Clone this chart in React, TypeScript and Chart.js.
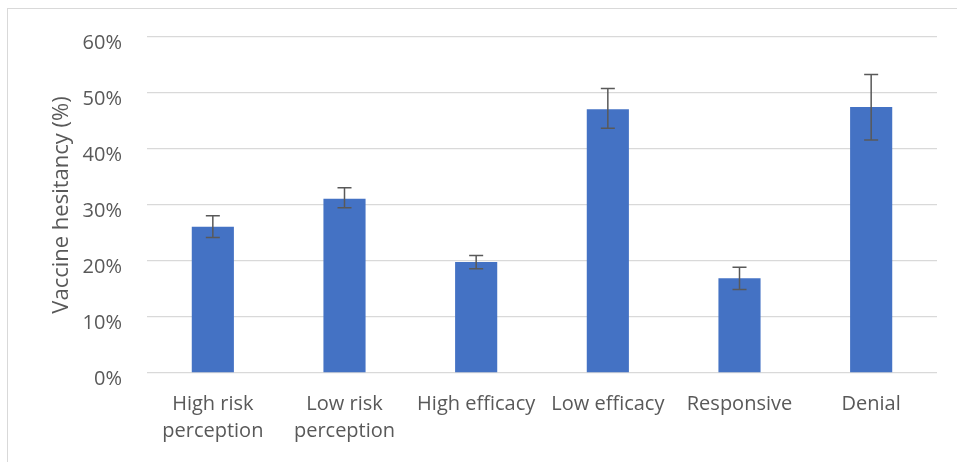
import React, { useEffect, useRef } from "react";
import { Chart, registerables } from "chart.js";

Chart.register(...registerables);

const categories: (string | string[])[] = [
  ["High risk", "perception"],
  ["Low risk", "perception"],
  "High efficacy",
  "Low efficacy",
  "Responsive",
  "Denial",
];
const hesitancy = [26.1, 31.1, 19.8, 47.1, 16.9, 47.5];
const errorLow = [24.2, 29.5, 18.6, 43.7, 14.9, 41.6];
const errorHigh = [28.1, 33.1, 21.0, 50.8, 18.9, 53.3];
const yTicks = [0, 10, 20, 30, 40, 50, 60];

const FONT = "'Open Sans', sans-serif";
const TEXT = "#595959";

const errorBarPlugin = {
  id: "errorBars",
  afterDatasetsDraw(chart: any) {
    const { ctx, scales } = chart;
    const meta = chart.getDatasetMeta(0);
    const y = scales.y;
    ctx.save();
    ctx.strokeStyle = "#595959";
    ctx.lineWidth = 1.5;
    meta.data.forEach((bar: any, i: number) => {
      const x = bar.x;
      const yl = y.getPixelForValue(errorLow[i]);
      const yh = y.getPixelForValue(errorHigh[i]);
      const cap = 7;
      ctx.beginPath();
      ctx.moveTo(x, yl);
      ctx.lineTo(x, yh);
      ctx.moveTo(x - cap, yl);
      ctx.lineTo(x + cap, yl);
      ctx.moveTo(x - cap, yh);
      ctx.lineTo(x + cap, yh);
      ctx.stroke();
    });
    ctx.restore();
  },
};

export default function App() {
  const ref = useRef<HTMLCanvasElement>(null);
  useEffect(() => {
    if (!ref.current) return;
    const chart = new Chart(ref.current, {
      type: "bar",
      data: {
        labels: categories as any,
        datasets: [
          {
            data: hesitancy,
            backgroundColor: "#4472C4",
            borderWidth: 0,
            barPercentage: 0.64,
            categoryPercentage: 0.5,
          },
        ],
      },
      plugins: [errorBarPlugin],
      options: {
        animation: false,
        responsive: false,
        maintainAspectRatio: false,
        layout: { padding: { left: 45, right: 20, top: 35, bottom: 0 } },
        plugins: { legend: { display: false }, tooltip: { enabled: false } },
        scales: {
          x: {
            grid: { display: false, drawTicks: false },
            border: { display: false },
            ticks: {
              color: TEXT,
              font: { family: FONT, size: 20, lineHeight: 1.35 },
              padding: 18,
              maxRotation: 0,
              autoSkip: false,
            },
            afterFit: (s: any) => {
              s.height = 89;
            },
          },
          y: {
            min: 0,
            max: 60,
            afterBuildTicks: (s: any) => {
              s.ticks = yTicks.map((v) => ({ value: v }));
            },
            grid: { color: "#d9d9d9", lineWidth: 1.3, drawTicks: false },
            border: { display: false },
            ticks: {
              color: TEXT,
              font: { family: FONT, size: 20 },
              padding: 25,
              labelOffset: 6,
              callback: (v: any) => v + "%",
            },
            title: {
              display: true,
              text: "Vaccine hesitancy (%)",
              color: TEXT,
              font: { family: FONT, size: 22 },
              padding: { top: 4, bottom: 4 },
            },
            afterFit: (s: any) => {
              s.width = 102;
            },
          },
        },
      },
    });
    return () => chart.destroy();
  }, []);

  return (
    <div
      style={{
        position: "fixed",
        left: 0,
        top: 0,
        width: 957,
        height: 462,
        overflow: "hidden",
        background: "#fff",
      }}
    >
      <div
        style={{
          position: "absolute",
          left: 7,
          top: 8,
          width: 1000,
          height: 1000,
          border: "1px solid #d9d9d9",
          boxSizing: "border-box",
        }}
      />
      <canvas
        ref={ref}
        width={957}
        height={462}
        style={{ position: "absolute", left: 0, top: 0, width: 957, height: 462 }}
      />
    </div>
  );
}
